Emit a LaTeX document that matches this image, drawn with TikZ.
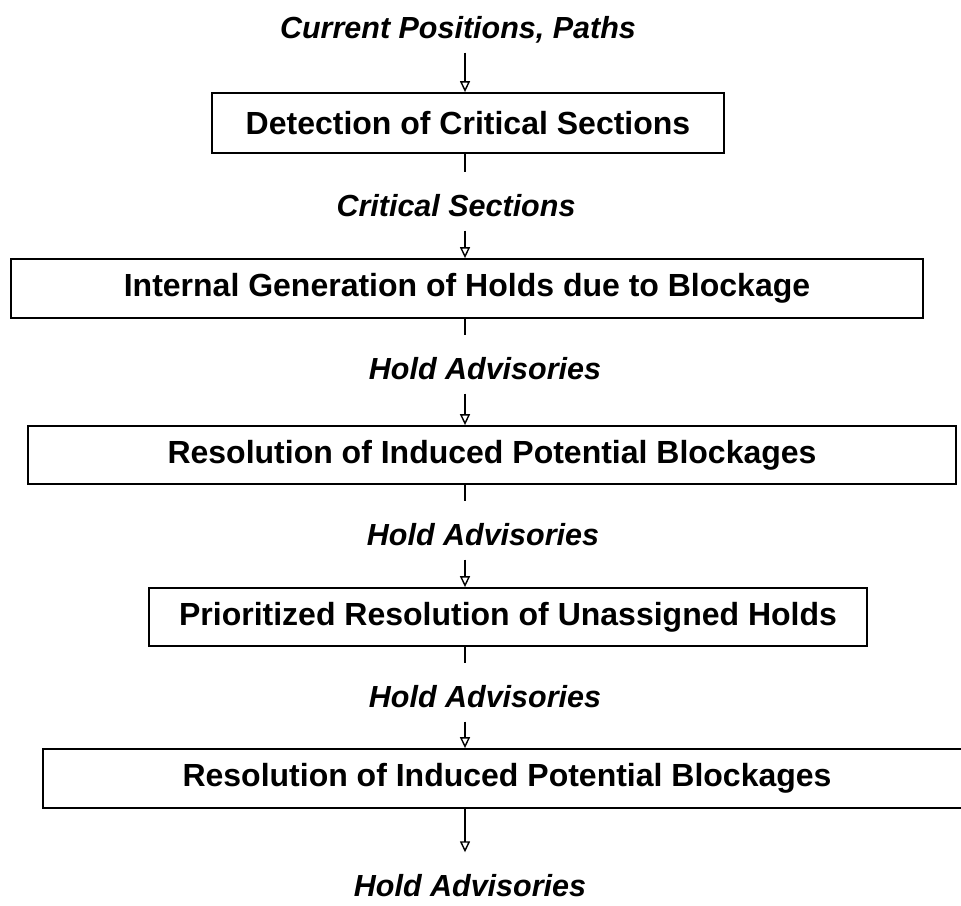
\documentclass[tikz,border=0pt]{standalone}
\usepackage{fontspec}
\setmainfont{Liberation Sans}
\usetikzlibrary{arrows.meta}

\begin{document}
\begin{tikzpicture}[x=1pt,y=-1pt,>={Triangle[open,width=10pt,length=11pt]},line width=1.4pt,
    box node/.style={draw,line width=1.8pt,inner sep=0pt,font=\bfseries\fontsize{32}{38}\selectfont},
    flow label/.style={inner sep=0pt,text height=43pt,text depth=14pt,anchor=base,
                       font=\bfseries\itshape\fontsize{30.5}{36}\selectfont}]

  \useasboundingbox (0,0) rectangle (961,905);
  \coordinate (spine) at (465,0);

  \node[flow label] (src) at (458,38) {Current Positions, Paths};
  \node[box node,minimum width=512pt,minimum height=60pt] (b1) at (468,123) {Detection of Critical Sections};
  \node[flow label] (l1) at (456,216) {Critical Sections};
  \node[box node,minimum width=912pt,minimum height=59pt] (b2) at (467,288.5) {Internal Generation of Holds due to Blockage};
  \node[flow label] (l2) at (485,379) {Hold Advisories};
  \node[box node,minimum width=928pt,minimum height=58pt] (b3) at (492,455) {Resolution of Induced Potential Blockages};
  \node[flow label] (l3) at (483,545) {Hold Advisories};
  \node[box node,minimum width=718pt,minimum height=58pt] (b4) at (508,617) {Prioritized Resolution of Unassigned Holds};
  \node[flow label] (l4) at (485,707) {Hold Advisories};
  \node[box node,minimum width=928pt,minimum height=59pt] (b5) at (507,778.5) {Resolution of Induced Potential Blockages};
  \node[flow label] (l5) at (470,896) {Hold Advisories};

  \draw[->] (src.south -| spine) -- (b1.north -| spine);
  \draw (b1.south -| spine) -- (l1.north -| spine);
  \draw[->] (l1.south -| spine) -- (b2.north -| spine);
  \draw (b2.south -| spine) -- (l2.north -| spine);
  \draw[->] (l2.south -| spine) -- (b3.north -| spine);
  \draw (b3.south -| spine) -- (l3.north -| spine);
  \draw[->] (l3.south -| spine) -- (b4.north -| spine);
  \draw (b4.south -| spine) -- (l4.north -| spine);
  \draw[->] (l4.south -| spine) -- (b5.north -| spine);
  \draw[->] (b5.south -| spine) -- (l5.north -| spine);
\end{tikzpicture}
\end{document}
